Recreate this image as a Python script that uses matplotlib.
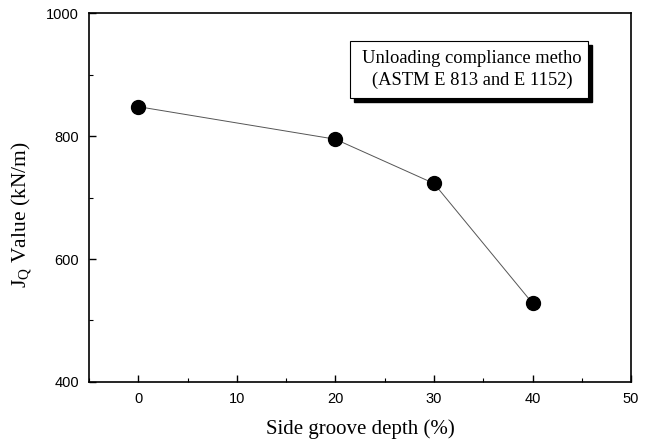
import matplotlib.pyplot as plt
from matplotlib.ticker import MultipleLocator

# groove depth vs J_Q
depth = [0, 20, 30, 40]
jq = [848, 795, 723, 528]
xticks = [0, 10, 20, 30, 40, 50]
yticks = [400, 600, 800, 1000]

serif = 'Liberation Serif'
sans = 'Liberation Sans'

fig = plt.figure(figsize=(6.54, 4.43), dpi=100)
ax = fig.add_axes([0.136, 0.138, 0.829, 0.832])

ax.plot(depth, jq, color='#555555', lw=0.7, marker='o', markersize=10,
        markerfacecolor='black', markeredgecolor='black', zorder=3)

ax.set_xlim(-5, 50)
ax.set_ylim(400, 1000)
ax.set_xticks(xticks)
ax.set_yticks(yticks)
ax.xaxis.set_minor_locator(MultipleLocator(5))
ax.yaxis.set_minor_locator(MultipleLocator(100))
ax.tick_params(which='major', direction='in', length=5, width=1, labelsize=10.5, pad=7)
ax.tick_params(which='minor', direction='in', length=3, width=0.8)
for lab in ax.get_xticklabels() + ax.get_yticklabels():
    lab.set_fontfamily(sans)
for s in ax.spines.values():
    s.set_linewidth(1.2)

# axis titles placed by hand to sit like the scan
fig.text(360 / 654, 1 - 429 / 443, 'Side groove depth (%)', ha='center', va='center',
         fontsize=15, fontfamily=serif)
fig.text(22 / 654, 1 - 215 / 443, 'J$_\\mathregular{Q}$ Value (kN/m)', ha='center', va='center',
         rotation=90, fontsize=15.5, fontfamily=serif)

# annotation box with drop shadow
bx, by, bw, bh = 350, 443 - 98, 238, 57
shadow = plt.Rectangle((bx + 4, by - 4), bw, bh, transform=None,
                       facecolor='black', edgecolor='black', zorder=4)
box = plt.Rectangle((bx, by), bw, bh, transform=None,
                    facecolor='white', edgecolor='black', lw=0.8, zorder=5)
fig.patches.extend([shadow, box])
fig.text((bx + bw / 2 + 3) / 654, (by + bh / 2) / 443,
         'Unloading compliance metho\n(ASTM E 813 and E 1152)',
         ha='center', va='center', fontsize=13.3, fontfamily=serif,
         linespacing=1.35, zorder=6)

fig.savefig('out.png', dpi=100)
